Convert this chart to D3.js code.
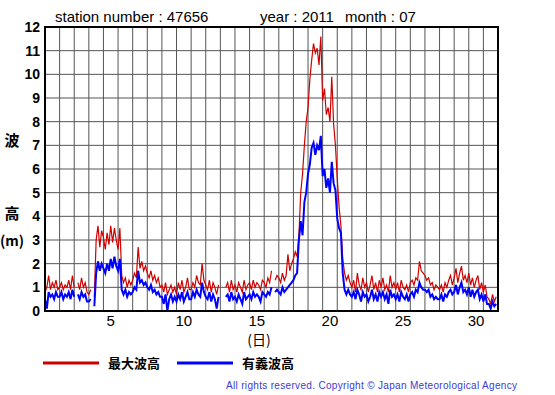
<!DOCTYPE html>
<html>
<head>
<meta charset="utf-8">
<script src="https://cdn.jsdelivr.net/npm/d3@7"></script>
<style>
  body { margin: 0; background: #fff; }
  svg { display: block; font-family: "Liberation Sans", Arial, sans-serif; }
</style>
</head>
<body>
<svg id="chart" width="555" height="395"></svg>
<script>
const width = 555;
const height = 395;

// 3-hourly readings, 8 per day, July 1..31 (null = missing)
const maxWave = [
  0.8, 1.0, 1.5, 0.9, 1.2, 1.0, 1.3, 0.9,
  1.0, 1.2, 0.9, 1.1, 1.0, 1.3, 0.9, 1.5,
  1.0, null, 1.2, 0.9, 1.4, 1.0, 1.2, 0.8,
  0.7, 0.9, null, 0.6, 3.0, 3.6, 2.7, 3.4,
  3.1, 2.6, 3.3, 2.8, 3.6, 2.9, 3.5, 3.0,
  2.6, 3.5, 1.5, 1.2, 1.4, 1.0, 1.3, 1.1,
  1.3, 1.6, 1.4, 2.7, 1.8, 2.1, 1.7, 1.9,
  1.6, 1.4, 1.7, 1.3, 1.5, 1.2, 1.4, 1.0,
  1.1, 0.8, 1.2, 0.7, 0.9, 1.1, 0.8, 1.0,
  0.7, 1.2, 0.9, 1.3, 0.8, 1.0, 1.4, 0.9,
  0.9, 1.2, 1.0, 1.5, 1.2, 1.1, 2.0, 1.3,
  1.1, 0.9, 1.3, 0.8, 1.2, 1.0, 0.7, 1.1,
  null, null, null, 1.0, 1.2, 0.8, 1.3, 0.9,
  1.1, 0.8, 1.2, 1.0, 0.8, 1.3, 0.9, 1.1,
  1.2, 0.9, 1.3, 1.0, 1.2, 1.1, 0.9, 1.3,
  1.2, 1.0, 1.4, 1.2, 1.7, null, 1.3, 1.5,
  1.4, 1.2, 1.6, 1.3, 1.5, 2.4, 1.7, 2.0,
  2.2, 2.5, 2.3, 3.2, 5.0, 5.8, 7.0, 8.0,
  8.6, 9.8, 10.6, 11.3, 10.9, 11.1, 10.4, 11.6,
  8.9, 9.4, 8.3, 8.6, 8.0, 9.9, 7.9, 7.0,
  5.6, 4.4, 3.6, 2.2, 1.6, 1.3, 1.5, 1.2,
  1.0, 1.3, 0.8, 1.6, 1.1, 0.9, 1.4, 1.0,
  1.2, 0.8, 1.1, 1.5, 0.9, 1.2, 0.8, 1.3,
  1.0, 1.4, 0.9, 1.1, 0.8, 1.5, 1.0, 1.2,
  0.9, 1.2, 0.8, 1.3, 1.0, 0.9, 1.1, 0.8,
  1.2, 1.3, 1.1, 1.4, 1.3, 2.1, 1.7, 1.6,
  1.5, 1.3, 1.4, 1.1, 1.2, 0.9, 1.1, 1.0,
  0.9, 1.1, 0.8, 1.2, 1.0, 1.3, 1.5, 1.1,
  1.4, 1.8, 1.2, 1.6, 1.9, 1.3, 1.5, 1.2,
  1.6, 1.1, 1.4, 1.0, 1.3, 1.5, 0.9, 1.2,
  0.8, 1.1, 0.6, 0.5, 0.3, 0.7, 0.4, 0.6
];

const sigWave = [
  0.5, 0.1, 0.8, 0.6, 0.7, 0.5, 0.8, 0.6,
  0.6, 0.8, 0.5, 0.7, 0.6, 0.8, 0.5, 0.9,
  0.6, null, 0.7, 0.5, 0.8, 0.6, 0.7, 0.4,
  0.4, 0.5, null, 0.2, 1.6, 2.1, 1.7, 2.0,
  1.8, 1.6, 2.0, 1.7, 2.2, 1.8, 2.3, 1.9,
  1.7, 2.2, 0.9, 0.7, 0.9, 0.6, 0.8, 0.7,
  0.8, 1.0, 0.9, 1.7, 1.2, 1.3, 1.1, 1.2,
  1.0, 0.9, 1.1, 0.8, 0.9, 0.7, 0.8, 0.6,
  0.6, 0.3, 0.7, 0.0, 0.5, 0.7, 0.4, 0.6,
  0.4, 0.7, 0.5, 0.8, 0.4, 0.6, 0.8, 0.5,
  0.5, 0.8, 0.6, 0.9, 0.7, 0.6, 1.2, 0.8,
  0.6, 0.5, 0.8, 0.4, 0.7, 0.5, 0.1, 0.6,
  null, null, null, 0.6, 0.7, 0.4, 0.8, 0.5,
  0.6, 0.4, 0.7, 0.5, 0.3, 0.8, 0.5, 0.6,
  0.7, 0.5, 0.8, 0.6, 0.7, 0.6, 0.4, 0.8,
  0.7, 0.6, 0.8, 0.7, 1.0, null, 0.8, 0.9,
  0.8, 0.7, 1.0, 0.8, 0.9, 1.0, 1.1, 1.2,
  1.3, 1.5, 1.6, 3.0, 3.8, 3.2, 4.6, 5.0,
  5.8, 6.2, 6.9, 7.1, 6.6, 7.0, 6.8, 7.4,
  5.7, 6.0, 5.2, 5.6, 5.0, 6.3, 5.4, 5.1,
  3.9, 3.5, 3.3, 1.6, 0.9, 0.7, 0.9, 0.7,
  0.6, 0.8, 0.5, 0.9, 0.7, 0.4, 0.8, 0.6,
  0.7, 0.4, 0.6, 0.9, 0.5, 0.7, 0.4, 0.8,
  0.6, 0.8, 0.5, 0.7, 0.3, 0.9, 0.6, 0.7,
  0.5, 0.7, 0.4, 0.8, 0.6, 0.5, 0.7, 0.4,
  0.7, 0.8, 0.6, 0.9, 0.8, 1.2, 1.0, 0.9,
  0.9, 0.8, 0.9, 0.6, 0.7, 0.5, 0.6, 0.5,
  0.5, 0.7, 0.4, 0.7, 0.6, 0.8, 0.9, 0.7,
  0.8, 1.1, 0.7, 1.0, 1.2, 0.8, 0.9, 0.7,
  1.0, 0.6, 0.9, 0.6, 0.8, 0.9, 0.5, 0.7,
  0.4, 0.7, 0.3, 0.3, 0.1, 0.4, 0.2, 0.3
];

const dayTicks = [5, 10, 15, 20, 25, 30];
const heightTicks = d3.range(0, 13);

const margin = { left: 45, right: 57, top: 27, bottom: 84 };
const plotW = width - margin.left - margin.right;
const plotH = height - margin.top - margin.bottom;

const svg = d3.select("#chart");

// x in days since July 1 00:00, y in metres
const x = d3.scaleLinear().domain([0, 31]).range([margin.left, margin.left + plotW]);
const y = d3.scaleLinear().domain([0, 12]).range([margin.top + plotH, margin.top]);

// grid
svg.append("g")
    .selectAll("line")
    .data(d3.range(1, 31))
    .enter()
    .append("line")
    .attr("x1", d => x(d)).attr("x2", d => x(d))
    .attr("y1", y(0)).attr("y2", y(12))
    .attr("stroke", "#555").attr("stroke-width", 1);

svg.append("g")
    .selectAll("line")
    .data(d3.range(1, 12))
    .enter()
    .append("line")
    .attr("x1", x(0)).attr("x2", x(31))
    .attr("y1", d => y(d)).attr("y2", d => y(d))
    .attr("stroke", "#555").attr("stroke-width", 1);

// series
const toPts = arr => arr.map((v, i) => ({ t: i / 8, v: v }));
const line = d3.line()
    .defined(d => d.v !== null)
    .x(d => x(d.t))
    .y(d => y(d.v));

svg.append("clipPath").attr("id", "plotClip")
    .append("rect")
    .attr("x", x(0)).attr("y", y(12))
    .attr("width", plotW).attr("height", plotH);

svg.append("path")
    .datum(toPts(maxWave))
    .attr("d", line)
    .attr("fill", "none")
    .attr("stroke", "#d00000")
    .attr("stroke-width", 1.2)
    .attr("clip-path", "url(#plotClip)");

svg.append("path")
    .datum(toPts(sigWave))
    .attr("d", line)
    .attr("fill", "none")
    .attr("stroke", "#0000ff")
    .attr("stroke-width", 2)
    .attr("clip-path", "url(#plotClip)");

// frame
svg.append("rect")
    .attr("x", x(0)).attr("y", y(12))
    .attr("width", plotW).attr("height", plotH)
    .attr("fill", "none")
    .attr("stroke", "#000")
    .attr("stroke-width", 2);

// y tick labels
svg.append("g")
    .selectAll("text")
    .data(heightTicks)
    .enter()
    .append("text")
    .attr("x", 40)
    .attr("y", d => y(d) + 5)
    .attr("text-anchor", "end")
    .attr("font-size", "14px")
    .attr("font-weight", "bold")
    .text(d => d);

// x tick labels at middle of each day
svg.append("g")
    .selectAll("text")
    .data(dayTicks)
    .enter()
    .append("text")
    .attr("x", d => x(d - 0.5))
    .attr("y", 326)
    .attr("text-anchor", "middle")
    .attr("font-size", "15px")
    .text(d => d);

const jp = "'Noto Sans CJK JP', sans-serif";

svg.append("text")
    .attr("x", 259).attr("y", 345)
    .attr("text-anchor", "middle")
    .attr("font-size", "14px")
    .attr("font-family", jp)
    .text("(日)");

// y axis label
svg.append("text").attr("x", 12).attr("y", 146).attr("text-anchor", "middle")
    .attr("font-size", "15px").attr("font-weight", "bold").attr("font-family", jp).text("波");
svg.append("text").attr("x", 12).attr("y", 219).attr("text-anchor", "middle")
    .attr("font-size", "15px").attr("font-weight", "bold").attr("font-family", jp).text("高");
svg.append("text").attr("x", 12).attr("y", 246).attr("text-anchor", "middle")
    .attr("font-size", "14px").attr("font-weight", "bold").attr("font-family", jp).text("(m)");

// header
svg.append("text").attr("x", 55).attr("y", 22).attr("font-size", "15px")
    .text("station number : 47656");
svg.append("text").attr("x", 260).attr("y", 22).attr("font-size", "15px")
    .text("year : 2011");
svg.append("text").attr("x", 345).attr("y", 22).attr("font-size", "15px")
    .text("month : 07");

// legend
const legend = [
  { name: "最大波高", color: "#cc0000", x0: 43 },
  { name: "有義波高", color: "#0000ff", x0: 177 }
];
const lg = svg.append("g");
lg.selectAll("line")
    .data(legend)
    .enter()
    .append("line")
    .attr("x1", d => d.x0).attr("x2", d => d.x0 + 56)
    .attr("y1", 363).attr("y2", 363)
    .attr("stroke", d => d.color)
    .attr("stroke-width", 3);
lg.selectAll("text")
    .data(legend)
    .enter()
    .append("text")
    .attr("x", d => d.x0 + 65)
    .attr("y", 368)
    .attr("font-size", "13px")
    .attr("font-weight", "bold")
    .attr("font-family", jp)
    .text(d => d.name);

svg.append("text")
    .attr("x", 226).attr("y", 389)
    .attr("font-size", "10px")
    .attr("fill", "#3a3ad6")
    .attr("textLength", 291)
    .attr("lengthAdjust", "spacing")
    .text("All rights reserved. Copyright © Japan Meteorological Agency");
</script>
</body>
</html>
